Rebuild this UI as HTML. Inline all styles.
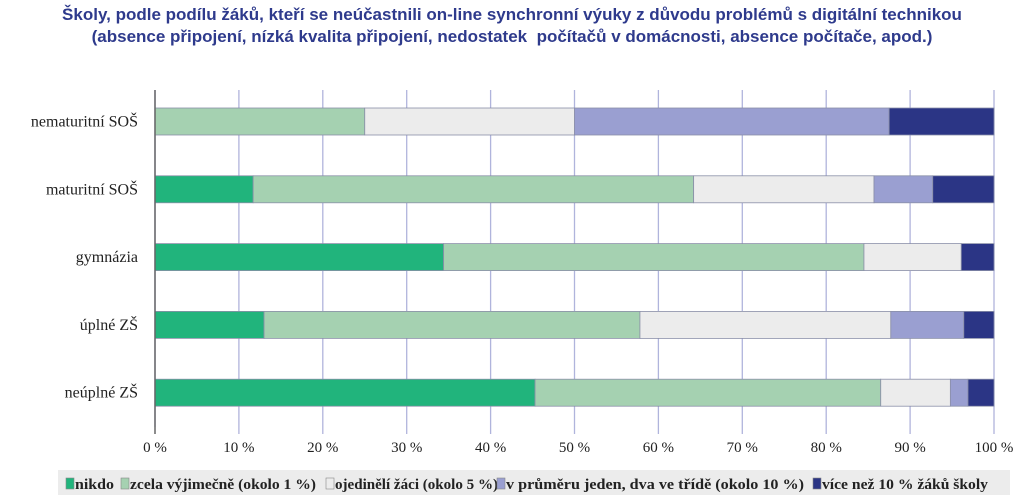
<!DOCTYPE html>
<html><head><meta charset="utf-8"><style>
body{margin:0;background:#fff;width:1024px;height:495px;overflow:hidden;font-family:"Liberation Sans",sans-serif}
#title{position:absolute;left:0;top:4px;width:1024px;text-align:center;color:#2e3a8c;font-weight:bold;font-size:17px;line-height:22px}
</style></head><body>
<div id="title">Školy, podle podílu žáků, kteří se neúčastnili on-line synchronní výuky z důvodu problémů s digitální technikou<br>(absence připojení, nízká kvalita připojení, nedostatek&nbsp; počítačů v domácnosti, absence počítače, apod.)</div>
<svg id="chart" width="1024" height="495" style="position:absolute;left:0;top:0"></svg>
<script>
const categories=["nematuritní SOŠ","maturitní SOŠ","gymnázia","úplné ZŠ","neúplné ZŠ"];
const seriesNames=["nikdo","zcela výjimečně (okolo 1 %)","ojedinělí žáci (okolo 5 %)","v průměru jeden, dva ve třídě (okolo 10 %)","více než 10 % žáků školy"];
const nikdo=[0,11.7,34.4,13,45.3];
const zcela=[25,52.5,50.1,44.8,41.2];
const ojedineli=[25,21.5,11.6,29.9,8.3];
const prumer=[37.5,7,0,8.7,2.1];
const vice=[12.5,7.3,3.9,3.6,3.1];
const tickLabels=["0 %","10 %","20 %","30 %","40 %","50 %","60 %","70 %","80 %","90 %","100 %"];
const colors=["#21b47c","#a5d1b1","#ececec","#9a9fd1","#2b3585"];
const series=[nikdo,zcela,ojedineli,prumer,vice];
const svg=document.getElementById('chart');const NS="http://www.w3.org/2000/svg";
function mk(t,a,p){const e=document.createElementNS(NS,t);for(const k in a)e.setAttribute(k,a[k]);(p||svg).appendChild(e);return e;}
const x0=155,x1=994,yTop=90,yBot=427;
const xs=v=>x0+(x1-x0)*v/100;
const ys=i=>108+i*67.8;
const bh=27;
tickLabels.forEach((t,i)=>{const x=xs(i*10);
 let g=mk('line',{x1:x,x2:x,y1:yTop,y2:i==0?yBot:434,stroke:'#b0b4dc','stroke-width':1.3});
 
 let tx=mk('text',{x:x,y:452,'text-anchor':'middle','font-family':'Liberation Serif, serif','font-size':15,fill:'#222'});tx.textContent=t;
 
});
categories.forEach((c,i)=>{let acc=0;const y=ys(i);
 series.forEach((s,j)=>{const v=s[i];if(v<=0)return;
  let r=mk('rect',{x:xs(acc),y:y,width:xs(acc+v)-xs(acc),height:bh,fill:colors[j],stroke:'#8a8fa8','stroke-width':0.8});
  acc+=v;});
 let t=mk('text',{x:138,y:y+bh/2+5,'text-anchor':'end','font-family':'Liberation Serif, serif','font-size':16,fill:'#222'});t.textContent=c;
 
});
let ax=mk('line',{x1:x0,x2:x0,y1:yTop,y2:434,stroke:'#666','stroke-width':1.5});

let lb=mk('rect',{x:58,y:470,width:952,height:25,fill:'#ececec'});

const lx=[66,121,326,497,813];
const lw=[39,186,163,298,166];
seriesNames.forEach((n,j)=>{
 let r=mk('rect',{x:lx[j],y:478,width:8,height:11,fill:colors[j],stroke:'#888','stroke-width':0.6});
 
 let t=mk('text',{x:lx[j]+9,y:489,'font-family':'Liberation Serif, serif','font-size':15,'font-weight':'bold',fill:'#222',textLength:lw[j],lengthAdjust:'spacingAndGlyphs'});t.textContent=n;
 
});
</script>
</body></html>
